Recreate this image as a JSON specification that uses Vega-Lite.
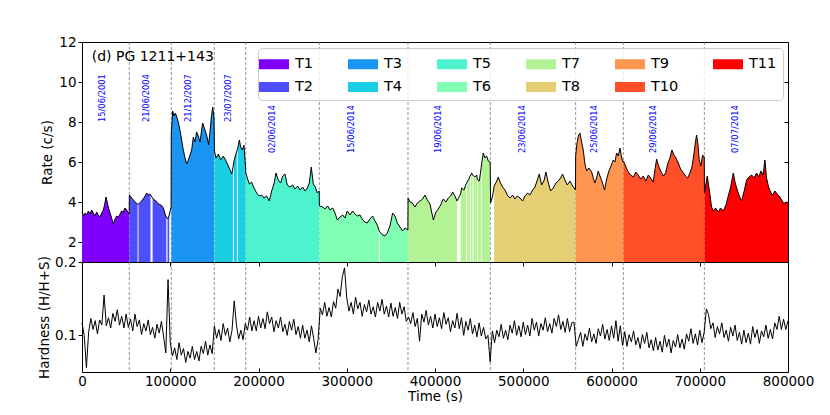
{
  "$schema": "https://vega.github.io/schema/vega-lite/v6.json",
  "description": "Light curve and hardness ratio of PG 1211+143, eleven segments T1-T11.",
  "background": "white",
  "padding": {"left": 37, "top": 34, "right": 20, "bottom": 5},
  "config": {
    "font": "DejaVu Sans",
    "view": {"stroke": "black", "strokeWidth": 1},
    "axis": {
      "labelFont": "DejaVu Sans",
      "labelFontSize": 13.5,
      "labelColor": "black",
      "titleFont": "DejaVu Sans",
      "titleFontSize": 13.5,
      "titleFontWeight": "normal",
      "titleColor": "black",
      "grid": false,
      "domain": false,
      "tickColor": "black",
      "tickSize": 4
    }
  },
  "datasets": {
    "cuts": [
      {"t": 53600}, {"t": 101200}, {"t": 149900}, {"t": 185500}, {"t": 268900},
      {"t": 369400}, {"t": 462700}, {"t": 559400}, {"t": 613400}, {"t": 705200}
    ],
    "dates": [
      {"d": "15/06/2001", "t": 23400, "r": 8.0},
      {"d": "21/06/2004", "t": 73300, "r": 8.0},
      {"d": "21/12/2007", "t": 121200, "r": 8.0},
      {"d": "23/07/2007", "t": 166200, "r": 8.0},
      {"d": "02/06/2014", "t": 216800, "r": 6.45},
      {"d": "15/06/2014", "t": 306300, "r": 6.45},
      {"d": "19/06/2014", "t": 404500, "r": 6.45},
      {"d": "23/06/2014", "t": 499300, "r": 6.45},
      {"d": "25/06/2014", "t": 581300, "r": 6.45},
      {"d": "29/06/2014", "t": 648100, "r": 6.45},
      {"d": "07/07/2014", "t": 741000, "r": 6.45}
    ],
    "lc": [
      {"t": 0, "r": 3.5, "s": "T1", "p": "a"},
      {"t": 1700, "r": 3.3, "s": "T1", "p": "a"},
      {"t": 3400, "r": 3.45, "s": "T1", "p": "a"},
      {"t": 5200, "r": 3.35, "s": "T1", "p": "a"},
      {"t": 7200, "r": 3.55, "s": "T1", "p": "a"},
      {"t": 9000, "r": 3.4, "s": "T1", "p": "a"},
      {"t": 11000, "r": 3.6, "s": "T1", "p": "a"},
      {"t": 12800, "r": 3.45, "s": "T1", "p": "a"},
      {"t": 14600, "r": 3.3, "s": "T1", "p": "a"},
      {"t": 16600, "r": 3.5, "s": "T1", "p": "a"},
      {"t": 18500, "r": 3.35, "s": "T1", "p": "a"},
      {"t": 20400, "r": 3.25, "s": "T1", "p": "a"},
      {"t": 22300, "r": 3.45, "s": "T1", "p": "a"},
      {"t": 24200, "r": 3.6, "s": "T1", "p": "a"},
      {"t": 25800, "r": 3.9, "s": "T1", "p": "a"},
      {"t": 27200, "r": 4.25, "s": "T1", "p": "a"},
      {"t": 28500, "r": 4.0, "s": "T1", "p": "a"},
      {"t": 29800, "r": 3.75, "s": "T1", "p": "a"},
      {"t": 31400, "r": 3.5, "s": "T1", "p": "a"},
      {"t": 32900, "r": 3.3, "s": "T1", "p": "a"},
      {"t": 34200, "r": 3.1, "s": "T1", "p": "a"},
      {"t": 35500, "r": 2.9, "s": "T1", "p": "a"},
      {"t": 37400, "r": 3.15, "s": "T1", "p": "a"},
      {"t": 39300, "r": 3.3, "s": "T1", "p": "a"},
      {"t": 41200, "r": 3.25, "s": "T1", "p": "a"},
      {"t": 43100, "r": 3.4, "s": "T1", "p": "a"},
      {"t": 45000, "r": 3.55, "s": "T1", "p": "a"},
      {"t": 46800, "r": 3.5, "s": "T1", "p": "a"},
      {"t": 48700, "r": 3.7, "s": "T1", "p": "a"},
      {"t": 50600, "r": 3.6, "s": "T1", "p": "a"},
      {"t": 52500, "r": 3.45, "s": "T1", "p": "a"},
      {"t": 53500, "r": 3.4, "s": "T1", "p": "a"},
      {"t": 53700, "r": 4.35, "s": "T2", "p": "a"},
      {"t": 56300, "r": 4.2, "s": "T2", "p": "a"},
      {"t": 58200, "r": 4.1, "s": "T2", "p": "a"},
      {"t": 61200, "r": 3.95, "s": "T2", "p": "a"},
      {"t": 63000, "r": 3.9, "s": "T2", "p": "a"},
      {"t": 64000, "r": 3.88, "s": "T2", "p": "b"},
      {"t": 65800, "r": 3.98, "s": "T2", "p": "b"},
      {"t": 67600, "r": 4.05, "s": "T2", "p": "b"},
      {"t": 70200, "r": 4.2, "s": "T2", "p": "b"},
      {"t": 73300, "r": 4.45, "s": "T2", "p": "b"},
      {"t": 75200, "r": 4.35, "s": "T2", "p": "b"},
      {"t": 77000, "r": 4.4, "s": "T2", "p": "b"},
      {"t": 77600, "r": 4.35, "s": "T2", "p": "b"},
      {"t": 80000, "r": 4.2, "s": "T2", "p": "c"},
      {"t": 80800, "r": 4.15, "s": "T2", "p": "c"},
      {"t": 83800, "r": 4.05, "s": "T2", "p": "c"},
      {"t": 86500, "r": 3.9, "s": "T2", "p": "c"},
      {"t": 89500, "r": 3.85, "s": "T2", "p": "c"},
      {"t": 92200, "r": 3.7, "s": "T2", "p": "c"},
      {"t": 94800, "r": 3.3, "s": "T2", "p": "c"},
      {"t": 95600, "r": 3.25, "s": "T2", "p": "c"},
      {"t": 96900, "r": 3.15, "s": "T2", "p": "d"},
      {"t": 98200, "r": 3.25, "s": "T2", "p": "d"},
      {"t": 98800, "r": 3.35, "s": "T2", "p": "d"},
      {"t": 101000, "r": 3.75, "s": "T2", "p": "e"},
      {"t": 101200, "r": 7.4, "s": "T3", "p": "a"},
      {"t": 102700, "r": 8.55, "s": "T3", "p": "a"},
      {"t": 104200, "r": 8.3, "s": "T3", "p": "a"},
      {"t": 105800, "r": 8.45, "s": "T3", "p": "a"},
      {"t": 107300, "r": 8.25, "s": "T3", "p": "a"},
      {"t": 109100, "r": 8.0, "s": "T3", "p": "a"},
      {"t": 111000, "r": 7.6, "s": "T3", "p": "a"},
      {"t": 112900, "r": 7.1, "s": "T3", "p": "a"},
      {"t": 114800, "r": 6.6, "s": "T3", "p": "a"},
      {"t": 116700, "r": 6.2, "s": "T3", "p": "a"},
      {"t": 118600, "r": 5.9, "s": "T3", "p": "a"},
      {"t": 120500, "r": 6.1, "s": "T3", "p": "a"},
      {"t": 122400, "r": 6.35, "s": "T3", "p": "a"},
      {"t": 124300, "r": 6.6, "s": "T3", "p": "a"},
      {"t": 126200, "r": 7.25, "s": "T3", "p": "a"},
      {"t": 128000, "r": 7.0, "s": "T3", "p": "a"},
      {"t": 129900, "r": 7.5, "s": "T3", "p": "a"},
      {"t": 131800, "r": 7.3, "s": "T3", "p": "a"},
      {"t": 133700, "r": 7.0, "s": "T3", "p": "a"},
      {"t": 135600, "r": 7.6, "s": "T3", "p": "a"},
      {"t": 136700, "r": 7.95, "s": "T3", "p": "a"},
      {"t": 138200, "r": 7.75, "s": "T3", "p": "a"},
      {"t": 140100, "r": 7.5, "s": "T3", "p": "a"},
      {"t": 142000, "r": 7.2, "s": "T3", "p": "a"},
      {"t": 143500, "r": 6.85, "s": "T3", "p": "a"},
      {"t": 145000, "r": 7.5, "s": "T3", "p": "a"},
      {"t": 146500, "r": 8.2, "s": "T3", "p": "a"},
      {"t": 148100, "r": 8.75, "s": "T3", "p": "a"},
      {"t": 149600, "r": 8.2, "s": "T3", "p": "a"},
      {"t": 150100, "r": 6.55, "s": "T4", "p": "a"},
      {"t": 151800, "r": 6.2, "s": "T4", "p": "a"},
      {"t": 154500, "r": 6.4, "s": "T4", "p": "a"},
      {"t": 157100, "r": 6.1, "s": "T4", "p": "a"},
      {"t": 160100, "r": 6.3, "s": "T4", "p": "a"},
      {"t": 163200, "r": 6.05, "s": "T4", "p": "a"},
      {"t": 165800, "r": 5.8, "s": "T4", "p": "a"},
      {"t": 167700, "r": 5.6, "s": "T4", "p": "a"},
      {"t": 169600, "r": 5.4, "s": "T4", "p": "a"},
      {"t": 171000, "r": 5.7, "s": "T4", "p": "a"},
      {"t": 172000, "r": 6.0, "s": "T4", "p": "b"},
      {"t": 173700, "r": 6.3, "s": "T4", "p": "b"},
      {"t": 175500, "r": 6.55, "s": "T4", "p": "b"},
      {"t": 176500, "r": 6.7, "s": "T4", "p": "c"},
      {"t": 178300, "r": 7.1, "s": "T4", "p": "c"},
      {"t": 179800, "r": 6.75, "s": "T4", "p": "c"},
      {"t": 181700, "r": 6.6, "s": "T4", "p": "c"},
      {"t": 183500, "r": 6.85, "s": "T4", "p": "c"},
      {"t": 184700, "r": 6.1, "s": "T4", "p": "c"},
      {"t": 185400, "r": 5.7, "s": "T4", "p": "c"},
      {"t": 185600, "r": 5.45, "s": "T5", "p": "a"},
      {"t": 187300, "r": 5.2, "s": "T5", "p": "a"},
      {"t": 189600, "r": 4.9, "s": "T5", "p": "a"},
      {"t": 192200, "r": 5.0, "s": "T5", "p": "a"},
      {"t": 194900, "r": 4.7, "s": "T5", "p": "a"},
      {"t": 197900, "r": 4.45, "s": "T5", "p": "a"},
      {"t": 200900, "r": 4.3, "s": "T5", "p": "a"},
      {"t": 203600, "r": 4.35, "s": "T5", "p": "a"},
      {"t": 206200, "r": 4.2, "s": "T5", "p": "a"},
      {"t": 209200, "r": 4.3, "s": "T5", "p": "a"},
      {"t": 212200, "r": 4.05, "s": "T5", "p": "a"},
      {"t": 214900, "r": 4.55, "s": "T5", "p": "a"},
      {"t": 217500, "r": 4.9, "s": "T5", "p": "a"},
      {"t": 219800, "r": 5.45, "s": "T5", "p": "a"},
      {"t": 222400, "r": 5.1, "s": "T5", "p": "a"},
      {"t": 225100, "r": 4.95, "s": "T5", "p": "a"},
      {"t": 227400, "r": 5.3, "s": "T5", "p": "a"},
      {"t": 230000, "r": 5.4, "s": "T5", "p": "a"},
      {"t": 232600, "r": 4.85, "s": "T5", "p": "a"},
      {"t": 235700, "r": 4.75, "s": "T5", "p": "a"},
      {"t": 238700, "r": 4.85, "s": "T5", "p": "a"},
      {"t": 241300, "r": 4.65, "s": "T5", "p": "a"},
      {"t": 244400, "r": 4.8, "s": "T5", "p": "a"},
      {"t": 247000, "r": 4.6, "s": "T5", "p": "a"},
      {"t": 250000, "r": 4.75, "s": "T5", "p": "a"},
      {"t": 252700, "r": 4.55, "s": "T5", "p": "a"},
      {"t": 255300, "r": 4.7, "s": "T5", "p": "a"},
      {"t": 257600, "r": 4.95, "s": "T5", "p": "a"},
      {"t": 259800, "r": 5.75, "s": "T5", "p": "a"},
      {"t": 262100, "r": 4.9, "s": "T5", "p": "a"},
      {"t": 264400, "r": 4.75, "s": "T5", "p": "a"},
      {"t": 266700, "r": 4.45, "s": "T5", "p": "a"},
      {"t": 268800, "r": 4.55, "s": "T5", "p": "a"},
      {"t": 269000, "r": 3.8, "s": "T6", "p": "a"},
      {"t": 272700, "r": 3.75, "s": "T6", "p": "a"},
      {"t": 275300, "r": 3.65, "s": "T6", "p": "a"},
      {"t": 278300, "r": 3.8, "s": "T6", "p": "a"},
      {"t": 281000, "r": 3.6, "s": "T6", "p": "a"},
      {"t": 284000, "r": 3.7, "s": "T6", "p": "a"},
      {"t": 286700, "r": 3.45, "s": "T6", "p": "a"},
      {"t": 289300, "r": 3.1, "s": "T6", "p": "a"},
      {"t": 292300, "r": 3.25, "s": "T6", "p": "a"},
      {"t": 295400, "r": 3.35, "s": "T6", "p": "a"},
      {"t": 298000, "r": 3.2, "s": "T6", "p": "a"},
      {"t": 300600, "r": 3.55, "s": "T6", "p": "a"},
      {"t": 303700, "r": 3.35, "s": "T6", "p": "a"},
      {"t": 306700, "r": 3.55, "s": "T6", "p": "a"},
      {"t": 309300, "r": 3.4, "s": "T6", "p": "a"},
      {"t": 312000, "r": 3.3, "s": "T6", "p": "a"},
      {"t": 315000, "r": 3.35, "s": "T6", "p": "a"},
      {"t": 318000, "r": 3.1, "s": "T6", "p": "a"},
      {"t": 320700, "r": 3.0, "s": "T6", "p": "a"},
      {"t": 323300, "r": 2.95, "s": "T6", "p": "a"},
      {"t": 326300, "r": 3.15, "s": "T6", "p": "a"},
      {"t": 329300, "r": 3.3, "s": "T6", "p": "a"},
      {"t": 332000, "r": 3.05, "s": "T6", "p": "a"},
      {"t": 334600, "r": 2.85, "s": "T6", "p": "a"},
      {"t": 336400, "r": 2.6, "s": "T6", "p": "a"},
      {"t": 337600, "r": 2.5, "s": "T6", "p": "b"},
      {"t": 340700, "r": 2.35, "s": "T6", "p": "b"},
      {"t": 343300, "r": 2.3, "s": "T6", "p": "b"},
      {"t": 345900, "r": 2.45, "s": "T6", "p": "b"},
      {"t": 349000, "r": 2.8, "s": "T6", "p": "b"},
      {"t": 352000, "r": 3.45, "s": "T6", "p": "b"},
      {"t": 354600, "r": 3.3, "s": "T6", "p": "b"},
      {"t": 357300, "r": 2.95, "s": "T6", "p": "b"},
      {"t": 360300, "r": 2.75, "s": "T6", "p": "b"},
      {"t": 363300, "r": 2.55, "s": "T6", "p": "b"},
      {"t": 366000, "r": 2.7, "s": "T6", "p": "b"},
      {"t": 369300, "r": 2.6, "s": "T6", "p": "b"},
      {"t": 369500, "r": 4.2, "s": "T7", "p": "a"},
      {"t": 371600, "r": 4.0, "s": "T7", "p": "a"},
      {"t": 374300, "r": 3.95, "s": "T7", "p": "a"},
      {"t": 377300, "r": 3.75, "s": "T7", "p": "a"},
      {"t": 379900, "r": 3.95, "s": "T7", "p": "a"},
      {"t": 383000, "r": 4.05, "s": "T7", "p": "a"},
      {"t": 386000, "r": 4.15, "s": "T7", "p": "a"},
      {"t": 388600, "r": 4.35, "s": "T7", "p": "a"},
      {"t": 391300, "r": 4.1, "s": "T7", "p": "a"},
      {"t": 394300, "r": 3.9, "s": "T7", "p": "a"},
      {"t": 398100, "r": 3.1, "s": "T7", "p": "a"},
      {"t": 401100, "r": 3.5, "s": "T7", "p": "a"},
      {"t": 403700, "r": 3.65, "s": "T7", "p": "a"},
      {"t": 406400, "r": 3.85, "s": "T7", "p": "a"},
      {"t": 409400, "r": 4.15, "s": "T7", "p": "a"},
      {"t": 412400, "r": 4.0, "s": "T7", "p": "a"},
      {"t": 415100, "r": 4.2, "s": "T7", "p": "a"},
      {"t": 417700, "r": 4.3, "s": "T7", "p": "a"},
      {"t": 420000, "r": 4.5, "s": "T7", "p": "a"},
      {"t": 422600, "r": 4.3, "s": "T7", "p": "a"},
      {"t": 425000, "r": 4.05, "s": "T7", "p": "a"},
      {"t": 429000, "r": 4.4, "s": "T7", "p": "b"},
      {"t": 430200, "r": 4.7, "s": "T7", "p": "b"},
      {"t": 432800, "r": 4.6, "s": "T7", "p": "b"},
      {"t": 435200, "r": 4.9, "s": "T7", "p": "b"},
      {"t": 436400, "r": 5.0, "s": "T7", "p": "c"},
      {"t": 438500, "r": 5.15, "s": "T7", "p": "c"},
      {"t": 439600, "r": 5.3, "s": "T7", "p": "c"},
      {"t": 440600, "r": 5.35, "s": "T7", "p": "d"},
      {"t": 441500, "r": 5.45, "s": "T7", "p": "d"},
      {"t": 442600, "r": 5.35, "s": "T7", "p": "d"},
      {"t": 443600, "r": 5.3, "s": "T7", "p": "e"},
      {"t": 445200, "r": 5.25, "s": "T7", "p": "e"},
      {"t": 447200, "r": 5.35, "s": "T7", "p": "e"},
      {"t": 447700, "r": 5.2, "s": "T7", "p": "e"},
      {"t": 448600, "r": 5.1, "s": "T7", "p": "f"},
      {"t": 450200, "r": 5.05, "s": "T7", "p": "f"},
      {"t": 452000, "r": 5.6, "s": "T7", "p": "f"},
      {"t": 452800, "r": 5.9, "s": "T7", "p": "g"},
      {"t": 454700, "r": 6.45, "s": "T7", "p": "g"},
      {"t": 456600, "r": 6.2, "s": "T7", "p": "g"},
      {"t": 458500, "r": 6.3, "s": "T7", "p": "g"},
      {"t": 460400, "r": 6.05, "s": "T7", "p": "g"},
      {"t": 462500, "r": 6.0, "s": "T7", "p": "g"},
      {"t": 463000, "r": 3.95, "s": "T8", "p": "y"},
      {"t": 465300, "r": 4.3, "s": "T8", "p": "z"},
      {"t": 467000, "r": 4.8, "s": "T8", "p": "a"},
      {"t": 469500, "r": 5.0, "s": "T8", "p": "a"},
      {"t": 471700, "r": 5.25, "s": "T8", "p": "a"},
      {"t": 473600, "r": 5.0, "s": "T8", "p": "a"},
      {"t": 476600, "r": 4.75, "s": "T8", "p": "a"},
      {"t": 479300, "r": 4.6, "s": "T8", "p": "a"},
      {"t": 481900, "r": 4.35, "s": "T8", "p": "a"},
      {"t": 484900, "r": 4.2, "s": "T8", "p": "a"},
      {"t": 488000, "r": 4.35, "s": "T8", "p": "a"},
      {"t": 490600, "r": 4.15, "s": "T8", "p": "a"},
      {"t": 493200, "r": 4.3, "s": "T8", "p": "a"},
      {"t": 496300, "r": 4.2, "s": "T8", "p": "a"},
      {"t": 499300, "r": 4.05, "s": "T8", "p": "a"},
      {"t": 501900, "r": 4.3, "s": "T8", "p": "a"},
      {"t": 505000, "r": 4.45, "s": "T8", "p": "a"},
      {"t": 507600, "r": 4.35, "s": "T8", "p": "a"},
      {"t": 510600, "r": 4.6, "s": "T8", "p": "a"},
      {"t": 513300, "r": 4.75, "s": "T8", "p": "a"},
      {"t": 515900, "r": 5.1, "s": "T8", "p": "a"},
      {"t": 518200, "r": 5.4, "s": "T8", "p": "a"},
      {"t": 520800, "r": 4.85, "s": "T8", "p": "a"},
      {"t": 523400, "r": 5.05, "s": "T8", "p": "a"},
      {"t": 525700, "r": 5.5, "s": "T8", "p": "a"},
      {"t": 528400, "r": 4.95, "s": "T8", "p": "a"},
      {"t": 531000, "r": 4.55, "s": "T8", "p": "a"},
      {"t": 534000, "r": 4.7, "s": "T8", "p": "a"},
      {"t": 537000, "r": 4.95, "s": "T8", "p": "a"},
      {"t": 539700, "r": 5.05, "s": "T8", "p": "a"},
      {"t": 542300, "r": 5.2, "s": "T8", "p": "a"},
      {"t": 544600, "r": 5.4, "s": "T8", "p": "a"},
      {"t": 547200, "r": 5.1, "s": "T8", "p": "a"},
      {"t": 549900, "r": 4.85, "s": "T8", "p": "a"},
      {"t": 552900, "r": 5.05, "s": "T8", "p": "a"},
      {"t": 555900, "r": 4.8, "s": "T8", "p": "a"},
      {"t": 559200, "r": 4.6, "s": "T8", "p": "a"},
      {"t": 559400, "r": 6.3, "s": "T9", "p": "a"},
      {"t": 560800, "r": 6.9, "s": "T9", "p": "a"},
      {"t": 562400, "r": 7.3, "s": "T9", "p": "a"},
      {"t": 564200, "r": 7.45, "s": "T9", "p": "a"},
      {"t": 566100, "r": 7.0, "s": "T9", "p": "a"},
      {"t": 568000, "r": 6.6, "s": "T9", "p": "a"},
      {"t": 569900, "r": 5.9, "s": "T9", "p": "a"},
      {"t": 571800, "r": 5.55, "s": "T9", "p": "a"},
      {"t": 574400, "r": 5.7, "s": "T9", "p": "a"},
      {"t": 577500, "r": 5.5, "s": "T9", "p": "a"},
      {"t": 579300, "r": 5.2, "s": "T9", "p": "a"},
      {"t": 581200, "r": 4.95, "s": "T9", "p": "a"},
      {"t": 583100, "r": 5.2, "s": "T9", "p": "a"},
      {"t": 585000, "r": 5.55, "s": "T9", "p": "a"},
      {"t": 586900, "r": 5.3, "s": "T9", "p": "a"},
      {"t": 589500, "r": 5.0, "s": "T9", "p": "a"},
      {"t": 592200, "r": 4.6, "s": "T9", "p": "a"},
      {"t": 594500, "r": 5.15, "s": "T9", "p": "a"},
      {"t": 597100, "r": 5.55, "s": "T9", "p": "a"},
      {"t": 599400, "r": 5.8, "s": "T9", "p": "a"},
      {"t": 602000, "r": 6.1, "s": "T9", "p": "a"},
      {"t": 603900, "r": 6.0, "s": "T9", "p": "a"},
      {"t": 605800, "r": 6.45, "s": "T9", "p": "a"},
      {"t": 607700, "r": 6.3, "s": "T9", "p": "a"},
      {"t": 609600, "r": 6.7, "s": "T9", "p": "a"},
      {"t": 611500, "r": 6.2, "s": "T9", "p": "a"},
      {"t": 613300, "r": 6.0, "s": "T9", "p": "a"},
      {"t": 613500, "r": 6.05, "s": "T10", "p": "a"},
      {"t": 616400, "r": 5.75, "s": "T10", "p": "a"},
      {"t": 619000, "r": 5.5, "s": "T10", "p": "a"},
      {"t": 621700, "r": 5.35, "s": "T10", "p": "a"},
      {"t": 624700, "r": 5.25, "s": "T10", "p": "a"},
      {"t": 627700, "r": 5.5, "s": "T10", "p": "a"},
      {"t": 630300, "r": 5.35, "s": "T10", "p": "a"},
      {"t": 633000, "r": 5.15, "s": "T10", "p": "a"},
      {"t": 636000, "r": 5.3, "s": "T10", "p": "a"},
      {"t": 639000, "r": 5.05, "s": "T10", "p": "a"},
      {"t": 641700, "r": 5.35, "s": "T10", "p": "a"},
      {"t": 644300, "r": 5.2, "s": "T10", "p": "a"},
      {"t": 647300, "r": 5.0, "s": "T10", "p": "a"},
      {"t": 649200, "r": 5.6, "s": "T10", "p": "a"},
      {"t": 651100, "r": 6.15, "s": "T10", "p": "a"},
      {"t": 653000, "r": 5.85, "s": "T10", "p": "a"},
      {"t": 655600, "r": 5.55, "s": "T10", "p": "a"},
      {"t": 658700, "r": 5.3, "s": "T10", "p": "a"},
      {"t": 661300, "r": 5.45, "s": "T10", "p": "a"},
      {"t": 663600, "r": 5.9, "s": "T10", "p": "a"},
      {"t": 666200, "r": 6.2, "s": "T10", "p": "a"},
      {"t": 668500, "r": 6.6, "s": "T10", "p": "a"},
      {"t": 670700, "r": 6.35, "s": "T10", "p": "a"},
      {"t": 673000, "r": 6.2, "s": "T10", "p": "a"},
      {"t": 675700, "r": 5.95, "s": "T10", "p": "a"},
      {"t": 678300, "r": 5.65, "s": "T10", "p": "a"},
      {"t": 681400, "r": 5.45, "s": "T10", "p": "a"},
      {"t": 684000, "r": 5.3, "s": "T10", "p": "a"},
      {"t": 686300, "r": 5.2, "s": "T10", "p": "a"},
      {"t": 688900, "r": 5.45, "s": "T10", "p": "a"},
      {"t": 691200, "r": 5.75, "s": "T10", "p": "a"},
      {"t": 693400, "r": 6.4, "s": "T10", "p": "a"},
      {"t": 695300, "r": 7.05, "s": "T10", "p": "a"},
      {"t": 696400, "r": 7.35, "s": "T10", "p": "a"},
      {"t": 697900, "r": 6.9, "s": "T10", "p": "a"},
      {"t": 699400, "r": 6.1, "s": "T10", "p": "a"},
      {"t": 701300, "r": 5.8, "s": "T10", "p": "a"},
      {"t": 703200, "r": 6.35, "s": "T10", "p": "a"},
      {"t": 705100, "r": 6.25, "s": "T10", "p": "a"},
      {"t": 705300, "r": 4.45, "s": "T11", "p": "a"},
      {"t": 707000, "r": 4.9, "s": "T11", "p": "a"},
      {"t": 708500, "r": 5.3, "s": "T11", "p": "a"},
      {"t": 710000, "r": 4.85, "s": "T11", "p": "a"},
      {"t": 711600, "r": 4.35, "s": "T11", "p": "a"},
      {"t": 713400, "r": 3.75, "s": "T11", "p": "a"},
      {"t": 715300, "r": 3.55, "s": "T11", "p": "a"},
      {"t": 718000, "r": 3.7, "s": "T11", "p": "a"},
      {"t": 721000, "r": 3.5, "s": "T11", "p": "a"},
      {"t": 723600, "r": 3.7, "s": "T11", "p": "a"},
      {"t": 726600, "r": 3.55, "s": "T11", "p": "a"},
      {"t": 729700, "r": 3.85, "s": "T11", "p": "a"},
      {"t": 732300, "r": 4.3, "s": "T11", "p": "a"},
      {"t": 735000, "r": 4.75, "s": "T11", "p": "a"},
      {"t": 738000, "r": 5.45, "s": "T11", "p": "a"},
      {"t": 740200, "r": 4.95, "s": "T11", "p": "a"},
      {"t": 742500, "r": 4.6, "s": "T11", "p": "a"},
      {"t": 744800, "r": 4.3, "s": "T11", "p": "a"},
      {"t": 747400, "r": 4.05, "s": "T11", "p": "a"},
      {"t": 750100, "r": 4.5, "s": "T11", "p": "a"},
      {"t": 753100, "r": 5.1, "s": "T11", "p": "a"},
      {"t": 755700, "r": 5.25, "s": "T11", "p": "a"},
      {"t": 758800, "r": 5.35, "s": "T11", "p": "a"},
      {"t": 761400, "r": 5.2, "s": "T11", "p": "a"},
      {"t": 764400, "r": 5.45, "s": "T11", "p": "a"},
      {"t": 767000, "r": 5.25, "s": "T11", "p": "a"},
      {"t": 769300, "r": 5.55, "s": "T11", "p": "a"},
      {"t": 771900, "r": 5.35, "s": "T11", "p": "a"},
      {"t": 773800, "r": 6.1, "s": "T11", "p": "a"},
      {"t": 775700, "r": 5.2, "s": "T11", "p": "a"},
      {"t": 778000, "r": 4.75, "s": "T11", "p": "a"},
      {"t": 780200, "r": 4.5, "s": "T11", "p": "a"},
      {"t": 782500, "r": 4.35, "s": "T11", "p": "a"},
      {"t": 785100, "r": 4.55, "s": "T11", "p": "a"},
      {"t": 787800, "r": 4.4, "s": "T11", "p": "a"},
      {"t": 790800, "r": 4.25, "s": "T11", "p": "a"},
      {"t": 793400, "r": 4.05, "s": "T11", "p": "a"},
      {"t": 795700, "r": 3.9, "s": "T11", "p": "a"},
      {"t": 798300, "r": 4.0, "s": "T11", "p": "a"},
      {"t": 800000, "r": 3.95, "s": "T11", "p": "a"}
    ],
    "hd": [
      {"t": 0, "h": 0.117}, {"t": 2500, "h": 0.100}, {"t": 5000, "h": 0.056}, {"t": 7500, "h": 0.104},
      {"t": 10000, "h": 0.123}, {"t": 12500, "h": 0.108}, {"t": 15000, "h": 0.120}, {"t": 17500, "h": 0.102},
      {"t": 20000, "h": 0.121}, {"t": 22500, "h": 0.114}, {"t": 25000, "h": 0.155}, {"t": 27500, "h": 0.113},
      {"t": 30000, "h": 0.124}, {"t": 32500, "h": 0.110}, {"t": 35000, "h": 0.130}, {"t": 37500, "h": 0.119},
      {"t": 40000, "h": 0.135}, {"t": 42500, "h": 0.114}, {"t": 45000, "h": 0.126}, {"t": 47500, "h": 0.110},
      {"t": 50000, "h": 0.129}, {"t": 52500, "h": 0.111}, {"t": 55000, "h": 0.122}, {"t": 57500, "h": 0.106},
      {"t": 60000, "h": 0.129}, {"t": 62500, "h": 0.112}, {"t": 65000, "h": 0.121}, {"t": 67500, "h": 0.101},
      {"t": 70000, "h": 0.116}, {"t": 72500, "h": 0.106}, {"t": 75000, "h": 0.121}, {"t": 77500, "h": 0.101},
      {"t": 80000, "h": 0.111}, {"t": 82500, "h": 0.096}, {"t": 85000, "h": 0.115}, {"t": 87500, "h": 0.103},
      {"t": 90000, "h": 0.119}, {"t": 92500, "h": 0.098}, {"t": 95000, "h": 0.076}, {"t": 97500, "h": 0.176},
      {"t": 100000, "h": 0.090}, {"t": 102500, "h": 0.072}, {"t": 105000, "h": 0.083}, {"t": 107500, "h": 0.067},
      {"t": 110000, "h": 0.090}, {"t": 112500, "h": 0.073}, {"t": 115000, "h": 0.082}, {"t": 117500, "h": 0.063},
      {"t": 120000, "h": 0.078}, {"t": 122500, "h": 0.069}, {"t": 125000, "h": 0.085}, {"t": 127500, "h": 0.067},
      {"t": 130000, "h": 0.078}, {"t": 132500, "h": 0.065}, {"t": 135000, "h": 0.085}, {"t": 137500, "h": 0.075},
      {"t": 140000, "h": 0.092}, {"t": 142500, "h": 0.073}, {"t": 145000, "h": 0.087}, {"t": 147500, "h": 0.075},
      {"t": 150000, "h": 0.113}, {"t": 152500, "h": 0.096}, {"t": 155000, "h": 0.108}, {"t": 157500, "h": 0.093},
      {"t": 160000, "h": 0.116}, {"t": 162500, "h": 0.100}, {"t": 165000, "h": 0.110}, {"t": 167500, "h": 0.091},
      {"t": 170000, "h": 0.107}, {"t": 172500, "h": 0.147}, {"t": 175000, "h": 0.114}, {"t": 177500, "h": 0.095},
      {"t": 180000, "h": 0.107}, {"t": 182500, "h": 0.094}, {"t": 185000, "h": 0.116}, {"t": 187500, "h": 0.107},
      {"t": 190000, "h": 0.125}, {"t": 192500, "h": 0.106}, {"t": 195000, "h": 0.120}, {"t": 197500, "h": 0.106},
      {"t": 200000, "h": 0.126}, {"t": 202500, "h": 0.110}, {"t": 205000, "h": 0.123}, {"t": 207500, "h": 0.109},
      {"t": 210000, "h": 0.132}, {"t": 212500, "h": 0.116}, {"t": 215000, "h": 0.125}, {"t": 217500, "h": 0.105},
      {"t": 220000, "h": 0.120}, {"t": 222500, "h": 0.110}, {"t": 225000, "h": 0.125}, {"t": 227500, "h": 0.105},
      {"t": 230000, "h": 0.115}, {"t": 232500, "h": 0.100}, {"t": 235000, "h": 0.119}, {"t": 237500, "h": 0.107},
      {"t": 240000, "h": 0.122}, {"t": 242500, "h": 0.101}, {"t": 245000, "h": 0.112}, {"t": 247500, "h": 0.096},
      {"t": 250000, "h": 0.114}, {"t": 252500, "h": 0.096}, {"t": 255000, "h": 0.107}, {"t": 257500, "h": 0.091},
      {"t": 260000, "h": 0.113}, {"t": 262500, "h": 0.096}, {"t": 265000, "h": 0.076}, {"t": 267500, "h": 0.094},
      {"t": 270000, "h": 0.137}, {"t": 272500, "h": 0.128}, {"t": 275000, "h": 0.145}, {"t": 277500, "h": 0.126},
      {"t": 280000, "h": 0.138}, {"t": 282500, "h": 0.125}, {"t": 285000, "h": 0.146}, {"t": 287500, "h": 0.137},
      {"t": 290000, "h": 0.163}, {"t": 292500, "h": 0.153}, {"t": 295000, "h": 0.180}, {"t": 297500, "h": 0.192},
      {"t": 300000, "h": 0.151}, {"t": 302500, "h": 0.133}, {"t": 305000, "h": 0.145}, {"t": 307500, "h": 0.129},
      {"t": 310000, "h": 0.152}, {"t": 312500, "h": 0.136}, {"t": 315000, "h": 0.145}, {"t": 317500, "h": 0.126},
      {"t": 320000, "h": 0.142}, {"t": 322500, "h": 0.132}, {"t": 325000, "h": 0.148}, {"t": 327500, "h": 0.129},
      {"t": 330000, "h": 0.139}, {"t": 332500, "h": 0.125}, {"t": 335000, "h": 0.145}, {"t": 337500, "h": 0.133},
      {"t": 340000, "h": 0.149}, {"t": 342500, "h": 0.129}, {"t": 345000, "h": 0.140}, {"t": 347500, "h": 0.125},
      {"t": 350000, "h": 0.144}, {"t": 352500, "h": 0.126}, {"t": 355000, "h": 0.138}, {"t": 357500, "h": 0.123},
      {"t": 360000, "h": 0.145}, {"t": 362500, "h": 0.129}, {"t": 365000, "h": 0.139}, {"t": 367500, "h": 0.119},
      {"t": 370000, "h": 0.125}, {"t": 372500, "h": 0.116}, {"t": 375000, "h": 0.131}, {"t": 377500, "h": 0.112},
      {"t": 380000, "h": 0.123}, {"t": 382500, "h": 0.092}, {"t": 385000, "h": 0.129}, {"t": 387500, "h": 0.118},
      {"t": 390000, "h": 0.134}, {"t": 392500, "h": 0.114}, {"t": 395000, "h": 0.126}, {"t": 397500, "h": 0.110},
      {"t": 400000, "h": 0.129}, {"t": 402500, "h": 0.112}, {"t": 405000, "h": 0.124}, {"t": 407500, "h": 0.109},
      {"t": 410000, "h": 0.131}, {"t": 412500, "h": 0.115}, {"t": 415000, "h": 0.124}, {"t": 417500, "h": 0.105},
      {"t": 420000, "h": 0.120}, {"t": 422500, "h": 0.110}, {"t": 425000, "h": 0.130}, {"t": 427500, "h": 0.109},
      {"t": 430000, "h": 0.124}, {"t": 432500, "h": 0.100}, {"t": 435000, "h": 0.119}, {"t": 437500, "h": 0.107},
      {"t": 440000, "h": 0.123}, {"t": 442500, "h": 0.102}, {"t": 445000, "h": 0.114}, {"t": 447500, "h": 0.098},
      {"t": 450000, "h": 0.117}, {"t": 452500, "h": 0.099}, {"t": 455000, "h": 0.111}, {"t": 457500, "h": 0.095},
      {"t": 460000, "h": 0.100}, {"t": 462500, "h": 0.064}, {"t": 465000, "h": 0.106}, {"t": 467500, "h": 0.090},
      {"t": 470000, "h": 0.107}, {"t": 472500, "h": 0.098}, {"t": 475000, "h": 0.115}, {"t": 477500, "h": 0.096},
      {"t": 480000, "h": 0.107}, {"t": 482500, "h": 0.094}, {"t": 485000, "h": 0.114}, {"t": 487500, "h": 0.103},
      {"t": 490000, "h": 0.120}, {"t": 492500, "h": 0.100}, {"t": 495000, "h": 0.113}, {"t": 497500, "h": 0.098},
      {"t": 500000, "h": 0.118}, {"t": 502500, "h": 0.101}, {"t": 505000, "h": 0.114}, {"t": 507500, "h": 0.099},
      {"t": 510000, "h": 0.123}, {"t": 512500, "h": 0.107}, {"t": 515000, "h": 0.118}, {"t": 517500, "h": 0.099},
      {"t": 520000, "h": 0.116}, {"t": 522500, "h": 0.107}, {"t": 525000, "h": 0.124}, {"t": 527500, "h": 0.105},
      {"t": 530000, "h": 0.116}, {"t": 532500, "h": 0.103}, {"t": 535000, "h": 0.123}, {"t": 537500, "h": 0.112},
      {"t": 540000, "h": 0.128}, {"t": 542500, "h": 0.108}, {"t": 545000, "h": 0.119}, {"t": 547500, "h": 0.104},
      {"t": 550000, "h": 0.123}, {"t": 552500, "h": 0.105}, {"t": 555000, "h": 0.117}, {"t": 557500, "h": 0.118},
      {"t": 560000, "h": 0.085}, {"t": 562500, "h": 0.094}, {"t": 565000, "h": 0.104}, {"t": 567500, "h": 0.085},
      {"t": 570000, "h": 0.102}, {"t": 572500, "h": 0.093}, {"t": 575000, "h": 0.110}, {"t": 577500, "h": 0.091},
      {"t": 580000, "h": 0.102}, {"t": 582500, "h": 0.089}, {"t": 585000, "h": 0.109}, {"t": 587500, "h": 0.099},
      {"t": 590000, "h": 0.115}, {"t": 592500, "h": 0.095}, {"t": 595000, "h": 0.108}, {"t": 597500, "h": 0.093},
      {"t": 600000, "h": 0.113}, {"t": 602500, "h": 0.096}, {"t": 605000, "h": 0.120}, {"t": 607500, "h": 0.092},
      {"t": 610000, "h": 0.113}, {"t": 612500, "h": 0.086}, {"t": 615000, "h": 0.105}, {"t": 617500, "h": 0.085},
      {"t": 620000, "h": 0.101}, {"t": 622500, "h": 0.091}, {"t": 625000, "h": 0.106}, {"t": 627500, "h": 0.087},
      {"t": 630000, "h": 0.097}, {"t": 632500, "h": 0.082}, {"t": 635000, "h": 0.101}, {"t": 637500, "h": 0.089},
      {"t": 640000, "h": 0.104}, {"t": 642500, "h": 0.083}, {"t": 645000, "h": 0.094}, {"t": 647500, "h": 0.079},
      {"t": 650000, "h": 0.097}, {"t": 652500, "h": 0.080}, {"t": 655000, "h": 0.092}, {"t": 657500, "h": 0.077},
      {"t": 660000, "h": 0.100}, {"t": 662500, "h": 0.084}, {"t": 665000, "h": 0.095}, {"t": 667500, "h": 0.076},
      {"t": 670000, "h": 0.093}, {"t": 672500, "h": 0.084}, {"t": 675000, "h": 0.101}, {"t": 677500, "h": 0.083},
      {"t": 680000, "h": 0.095}, {"t": 682500, "h": 0.081}, {"t": 685000, "h": 0.102}, {"t": 687500, "h": 0.092},
      {"t": 690000, "h": 0.109}, {"t": 692500, "h": 0.089}, {"t": 695000, "h": 0.102}, {"t": 697500, "h": 0.087},
      {"t": 700000, "h": 0.107}, {"t": 702500, "h": 0.090}, {"t": 705000, "h": 0.104}, {"t": 707500, "h": 0.136},
      {"t": 710000, "h": 0.128}, {"t": 712500, "h": 0.109}, {"t": 715000, "h": 0.117}, {"t": 717500, "h": 0.097},
      {"t": 720000, "h": 0.112}, {"t": 722500, "h": 0.102}, {"t": 725000, "h": 0.117}, {"t": 727500, "h": 0.097},
      {"t": 730000, "h": 0.107}, {"t": 732500, "h": 0.092}, {"t": 735000, "h": 0.111}, {"t": 737500, "h": 0.099},
      {"t": 740000, "h": 0.114}, {"t": 742500, "h": 0.093}, {"t": 745000, "h": 0.104}, {"t": 747500, "h": 0.088},
      {"t": 750000, "h": 0.107}, {"t": 752500, "h": 0.090}, {"t": 755000, "h": 0.103}, {"t": 757500, "h": 0.088},
      {"t": 760000, "h": 0.112}, {"t": 762500, "h": 0.097}, {"t": 765000, "h": 0.108}, {"t": 767500, "h": 0.089},
      {"t": 770000, "h": 0.106}, {"t": 772500, "h": 0.098}, {"t": 775000, "h": 0.114}, {"t": 777500, "h": 0.096},
      {"t": 780000, "h": 0.108}, {"t": 782500, "h": 0.095}, {"t": 785000, "h": 0.117}, {"t": 787500, "h": 0.108},
      {"t": 790000, "h": 0.126}, {"t": 792500, "h": 0.108}, {"t": 795000, "h": 0.122}, {"t": 797500, "h": 0.108},
      {"t": 800000, "h": 0.120}
    ]
  },
  "bounds": "flush",
  "spacing": 0,
  "vconcat": [
    {
      "width": 706,
      "height": 220,
      "layer": [
        {
          "data": {"name": "cuts"},
          "mark": {"type": "rule", "color": "#777777", "strokeDash": [3, 2], "strokeWidth": 0.8},
          "encoding": {"x": {"field": "t", "type": "quantitative"}}
        },
        {
          "data": {"name": "lc"},
          "mark": {"type": "area", "opacity": 1},
          "encoding": {
            "x": {
              "field": "t",
              "type": "quantitative",
              "scale": {"domain": [0, 800000], "nice": false},
              "axis": {"labels": false, "title": null, "tickSize": 4,
                       "values": [0, 100000, 200000, 300000, 400000, 500000, 600000, 700000, 800000]}
            },
            "y": {
              "field": "r",
              "type": "quantitative",
              "scale": {"domain": [1, 12], "nice": false, "zero": false},
              "axis": {"title": "Rate (c/s)", "values": [2, 4, 6, 8, 10, 12], "titlePadding": 4}
            },
            "y2": {"datum": 1},
            "color": {
              "field": "s",
              "type": "nominal",
              "scale": {
                "domain": ["T1", "T2", "T3", "T4", "T5", "T6", "T7", "T8", "T9", "T10", "T11"],
                "range": ["#8000ff", "#4d4ffc", "#1a96f2", "#1acee3", "#4df3ce", "#80ffb4",
                          "#b3f396", "#e6ce74", "#ff964f", "#ff4f28", "#ff0000"]
              },
              "legend": {
                "orient": "none",
                "legendX": 176,
                "legendY": 6,
                "columns": 6,
                "title": null,
                "symbolType": "M-1.5,-0.5H1.5V0.5H-1.5Z",
                "symbolSize": 400,
                "symbolStrokeWidth": 0,
                "symbolOpacity": 1,
                "labelFont": "DejaVu Sans",
                "labelFontSize": 14.5,
                "labelColor": "black",
                "labelOffset": 11,
                "columnPadding": 34,
                "rowPadding": 6,
                "padding": 6,
                "strokeColor": "#cccccc",
                "fillColor": "rgba(255,255,255,0.8)",
                "cornerRadius": 4
              }
            },
            "detail": {"field": "p"}
          }
        },
        {
          "data": {"name": "lc"},
          "mark": {"type": "line", "color": "black", "strokeWidth": 1},
          "encoding": {
            "x": {"field": "t", "type": "quantitative"},
            "y": {"field": "r", "type": "quantitative", "axis": null}
          }
        },
        {
          "data": {"name": "dates"},
          "mark": {"type": "text", "angle": 270, "align": "left", "baseline": "middle",
                   "fontSize": 8.3, "color": "#0000ff", "font": "DejaVu Sans"},
          "encoding": {
            "x": {"field": "t", "type": "quantitative"},
            "y": {"field": "r", "type": "quantitative",
                  "axis": {"orient": "right", "labels": false, "title": null, "tickSize": -4,
                           "values": [2, 4, 6, 8, 10, 12]}},
            "text": {"field": "d"}
          }
        },
        {
          "data": {"values": [{}]},
          "mark": {"type": "text", "align": "left", "baseline": "middle", "fontSize": 14,
                   "color": "black", "font": "DejaVu Sans", "text": "(d) PG 1211+143"},
          "encoding": {
            "x": {"datum": 11000, "type": "quantitative"},
            "y": {"datum": 11.25, "type": "quantitative", "axis": null}
          }
        }
      ],
      "resolve": {"axis": {"y": "independent"}}
    },
    {
      "width": 706,
      "height": 110,
      "layer": [
        {
          "data": {"name": "cuts"},
          "mark": {"type": "rule", "color": "#777777", "strokeDash": [3, 2], "strokeWidth": 0.8},
          "encoding": {"x": {"field": "t", "type": "quantitative"}}
        },
        {
          "data": {"name": "hd"},
          "mark": {"type": "line", "color": "black", "strokeWidth": 1},
          "encoding": {
            "x": {
              "field": "t",
              "type": "quantitative",
              "scale": {"domain": [0, 800000], "nice": false},
              "axis": {"title": "Time (s)", "format": "d", "labelFlush": false, "tickSize": -4,
                       "labelPadding": 6, "titlePadding": 2,
                       "values": [0, 100000, 200000, 300000, 400000, 500000, 600000, 700000, 800000]}
            },
            "y": {
              "field": "h",
              "type": "quantitative",
              "scale": {"domain": [0.05, 0.2], "nice": false, "zero": false},
              "axis": {"title": "Hardness (H/H+S)", "values": [0.1, 0.2], "format": ".1f", "titlePadding": 3}
            }
          }
        }
      ]
    }
  ]
}
